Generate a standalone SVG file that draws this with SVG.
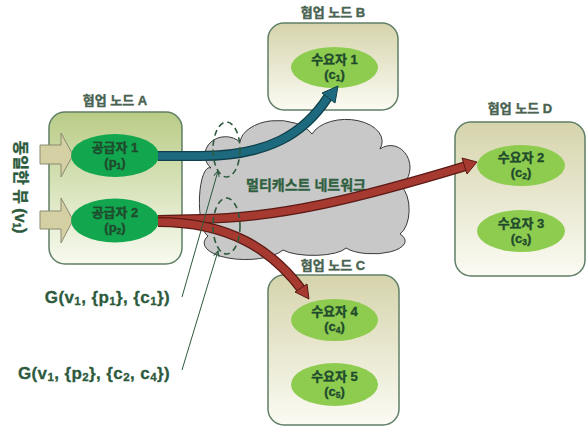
<svg xmlns="http://www.w3.org/2000/svg" width="586" height="427" viewBox="0 0 586 427">
  <defs>
    <linearGradient id="gA" x1="0" y1="0" x2="0" y2="1">
      <stop offset="0" stop-color="#b9cc86"/>
      <stop offset="1" stop-color="#f8faf0"/>
    </linearGradient>
    <linearGradient id="gN" x1="0" y1="0" x2="0" y2="1">
      <stop offset="0" stop-color="#d6d4ac"/>
      <stop offset="1" stop-color="#fbfbf4"/>
    </linearGradient>
    <marker id="thin" viewBox="0 0 10 10" refX="9" refY="5" markerWidth="7" markerHeight="7" orient="auto">
      <path d="M1,1 L9,5 L1,9" fill="none" stroke="#2d5a3d" stroke-width="1.4"/>
    </marker>
  </defs>
  <style>
    .box { stroke: #5f7f66; stroke-width: 1.5; }
    .lbl { font-family: "Liberation Sans", "Noto Sans CJK KR", sans-serif; font-weight: bold; font-size: 13px; fill: #4a6452; stroke: #4a6452; stroke-width: 0.4; text-anchor: middle; }
    .t { font-family: "Liberation Sans", "Noto Sans CJK KR", sans-serif; font-weight: bold; font-size: 13px; fill: #1f4a2d; stroke: #1f4a2d; stroke-width: 0.35; text-anchor: middle; }
    .sub { font-size: 8.5px; }
    .prod { fill: #12a64e; }
    .cons { fill: #8dcc4e; }
    .g { font-family: "Liberation Sans", "Noto Sans CJK KR", sans-serif; font-weight: bold; font-size: 17px; letter-spacing: 0.4px; fill: #2d5a3d; stroke: #2d5a3d; stroke-width: 0.3; text-anchor: end; }
    .gs { font-size: 11.5px; }
    .lead { stroke: #2d5a3d; stroke-width: 1; fill: none; }
    .dash { fill: none; stroke: #2d5a3d; stroke-width: 1.6; stroke-dasharray: 6 4; }
    .pipeO { fill: none; stroke-width: 10; }
    .pipeI { fill: none; stroke-width: 7.5; }
  </style>

  <!-- multicast network cloud -->
  <g id="network">
    <path d="M208,236 A10,34 0 0 1 211,168 A18,16 0 0 1 240,142 A38,24 0 0 1 312,134 A36,22 0 0 1 380,149 A16,18 0 0 1 401,186 A14,26 0 0 1 400,234 A30,12 0 0 1 346,248 A34,10 0 0 1 283,250 A40,16 0 0 1 208,236 Z" fill="#c8c8c8" stroke="#3a3a3a" stroke-width="1"/>
    <text x="306" y="190" class="t" style="font-size:14px; fill:#2f6040; stroke:#2f6040">멀티캐스트 네트워크</text>
  </g>

  <!-- cooperative node A -->
  <g id="nodeA">
    <text x="115" y="105" class="lbl">협업 노드 A</text>
    <rect x="49" y="112" width="133" height="152" rx="16" fill="url(#gA)" class="box"/>
    <path d="M40,145 L61,145 L61,133 L73,155 L61,177 L61,164 L40,164 Z" fill="#d4d0a4" stroke="#8a8a70" stroke-width="1"/>
    <path d="M40,211 L61,211 L61,198 L73,220 L61,243 L61,229 L40,229 Z" fill="#d4d0a4" stroke="#8a8a70" stroke-width="1"/>
    <ellipse cx="115" cy="155.5" rx="44" ry="21.5" class="prod"/>
    <text x="115" y="152" class="t">공급자 1</text>
    <text x="115" y="167" class="t">(p<tspan class="sub" dy="2">1</tspan><tspan dy="-2">)</tspan></text>
    <ellipse cx="115" cy="220.5" rx="44" ry="22" class="prod"/>
    <text x="115" y="217" class="t">공급자 2</text>
    <text x="115" y="232" class="t">(p<tspan class="sub" dy="2">2</tspan><tspan dy="-2">)</tspan></text>
  </g>

  <!-- vertical view label -->
  <g id="view">
    <text transform="translate(15,187) rotate(90)" class="t" style="font-size:16px; fill:#2d5a3d; stroke:#2d5a3d">동일한 뷰 (v<tspan style="font-size:10px" dy="2">1</tspan><tspan dy="-2">)</tspan></text>
  </g>

  <!-- cooperative node B -->
  <g id="nodeB">
    <text x="333" y="17" class="lbl">협업 노드 B</text>
    <rect x="268" y="23" width="130" height="87" rx="16" fill="url(#gN)" class="box"/>
    <ellipse cx="334.5" cy="67.5" rx="43.5" ry="20.5" class="cons"/>
    <text x="334.5" y="64" class="t">수요자 1</text>
    <text x="334.5" y="79" class="t">(c<tspan class="sub" dy="2">1</tspan><tspan dy="-2">)</tspan></text>
  </g>

  <!-- cooperative node D -->
  <g id="nodeD">
    <text x="520" y="113" class="lbl">협업 노드 D</text>
    <rect x="455" y="122" width="130" height="154" rx="16" fill="url(#gN)" class="box"/>
    <ellipse cx="521" cy="165.5" rx="44" ry="20.5" class="cons"/>
    <text x="521" y="162" class="t">수요자 2</text>
    <text x="521" y="177" class="t">(c<tspan class="sub" dy="2">2</tspan><tspan dy="-2">)</tspan></text>
    <ellipse cx="521" cy="231" rx="44" ry="21" class="cons"/>
    <text x="521" y="228" class="t">수요자 3</text>
    <text x="521" y="243" class="t">(c<tspan class="sub" dy="2">3</tspan><tspan dy="-2">)</tspan></text>
  </g>

  <!-- cooperative node C -->
  <g id="nodeC">
    <text x="333" y="270" class="lbl">협업 노드 C</text>
    <rect x="268" y="275" width="131" height="150" rx="16" fill="url(#gN)" class="box"/>
    <ellipse cx="334.5" cy="320" rx="43.5" ry="21" class="cons"/>
    <text x="334.5" y="316" class="t">수요자 4</text>
    <text x="334.5" y="331" class="t">(c<tspan class="sub" dy="2">4</tspan><tspan dy="-2">)</tspan></text>
    <ellipse cx="334.5" cy="384.5" rx="43.5" ry="21.5" class="cons"/>
    <text x="334.5" y="381" class="t">수요자 5</text>
    <text x="334.5" y="396" class="t">(c<tspan class="sub" dy="2">5</tspan><tspan dy="-2">)</tspan></text>
  </g>

  <!-- data flows -->
  <g id="connectors">
    <path d="M158,156 L200,156 C268,156 304,134 328,97" class="pipeO" stroke="#0f3f4a"/>
    <path d="M158,156 L200,156 C268,156 304,134 328,97" class="pipeI" stroke="#1d6a7e"/>
    <path d="M322,93 L338,86 L335,103 Z" fill="#1d6a7e" stroke="#0f3f4a" stroke-width="1"/>

    <path d="M158,220 L200,219 C280,218 360,198 466,166" class="pipeO" stroke="#5a1a15"/>
    <path d="M158,220 L200,219 C280,218 360,198 466,166" class="pipeI" stroke="#a63a30"/>
    <path d="M462,158 L477,162 L467,174 Z" fill="#a63a30" stroke="#5a1a15" stroke-width="1"/>

    <path d="M158,222 C230,222 272,250 302,290" class="pipeO" stroke="#5a1a15"/>
    <path d="M158,222 C230,222 272,250 302,290" class="pipeI" stroke="#a63a30"/>
    <path d="M295,292 L309,299 L307,284 Z" fill="#a63a30" stroke="#5a1a15" stroke-width="1"/>

    <ellipse cx="226.5" cy="149.5" rx="13.5" ry="27.5" class="dash"/>
    <ellipse cx="226.5" cy="226" rx="13.5" ry="28" class="dash"/>

    <path d="M182,297 L218,171" class="lead" marker-end="url(#thin)"/>
    <path d="M182,370 L218,251" class="lead" marker-end="url(#thin)"/>
  </g>

  <!-- group descriptors -->
  <g id="groups">
    <text x="170" y="303" class="g">G(v<tspan class="gs" dy="2">1</tspan><tspan dy="-2">, {p</tspan><tspan class="gs" dy="2">1</tspan><tspan dy="-2">}, {c</tspan><tspan class="gs" dy="2">1</tspan><tspan dy="-2">})</tspan></text>
    <text x="170" y="379" class="g">G(v<tspan class="gs" dy="2">1</tspan><tspan dy="-2">, {p</tspan><tspan class="gs" dy="2">2</tspan><tspan dy="-2">}, {c</tspan><tspan class="gs" dy="2">2</tspan><tspan dy="-2">, c</tspan><tspan class="gs" dy="2">4</tspan><tspan dy="-2">})</tspan></text>
  </g>
</svg>
